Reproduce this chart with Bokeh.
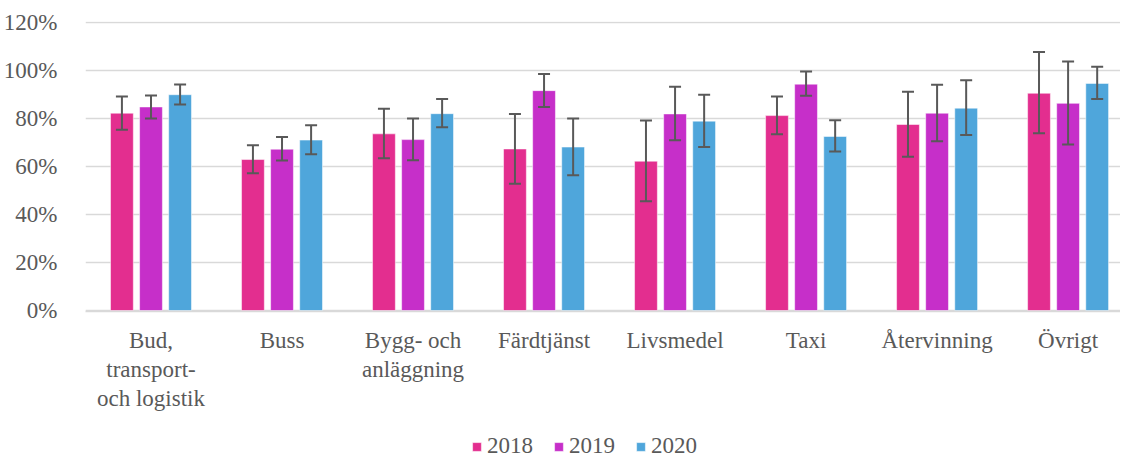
from bokeh.plotting import figure
from bokeh.models import (ColumnDataSource, Range1d, FixedTicker, NumeralTickFormatter,
                          Whisker, TeeHead, Legend, LegendItem)
from bokeh.transform import dodge
from bokeh.layouts import column
from bokeh.embed import file_html
from bokeh.resources import INLINE
import numpy as np

categories = ["Bud,\ntransport-\noch logistik", "Buss", "Bygg- och\nanläggning", "Färdtjänst",
              "Livsmedel", "Taxi", "Återvinning", "Övrigt"]
years = ["2018", "2019", "2020"]

v2018 = [82.2, 62.9, 73.6, 67.3, 62.2, 81.2, 77.5, 90.5]
v2019 = [84.8, 67.2, 71.2, 91.6, 81.9, 94.3, 82.2, 86.3]
v2020 = [89.9, 71.0, 82.0, 68.1, 78.9, 72.5, 84.3, 94.6]

hi2018 = [89.2, 68.8, 84.1, 81.9, 79.2, 89.2, 91.1, 107.7]
lo2018 = [75.3, 57.2, 63.4, 52.8, 45.5, 73.4, 64.1, 73.8]
hi2019 = [89.6, 72.3, 80.0, 98.5, 93.2, 99.6, 94.1, 103.7]
lo2019 = [80.0, 62.5, 62.6, 84.8, 70.9, 89.5, 70.5, 69.2]
hi2020 = [94.2, 77.2, 88.1, 80.0, 89.9, 79.3, 95.9, 101.5]
lo2020 = [85.8, 65.1, 76.3, 56.4, 68.1, 66.2, 73.1, 88.1]

colors = ["#E32E8F", "#C62FC9", "#4FA6DB"]
TEXT = "#595959"
FONT = "Liberation Serif"

xs = list(np.arange(len(categories)) + 0.5)
src = ColumnDataSource(dict(
    x=xs,
    v2018=[v / 100 for v in v2018], v2019=[v / 100 for v in v2019], v2020=[v / 100 for v in v2020],
    hi2018=[v / 100 for v in hi2018], lo2018=[v / 100 for v in lo2018],
    hi2019=[v / 100 for v in hi2019], lo2019=[v / 100 for v in lo2019],
    hi2020=[v / 100 for v in hi2020], lo2020=[v / 100 for v in lo2020],
))

p = figure(width=1120, height=432, output_backend="svg", toolbar_location=None,
           x_range=Range1d(0, 7.9), y_range=Range1d(-0.004, 1.204),
           min_border_left=77, min_border_right=0, min_border_top=21, min_border_bottom=121)
p.outline_line_color = None
p.background_fill_color = "white"
p.border_fill_color = "white"

offsets = [-0.222, 0.0, 0.222]
for yr, off, col in zip(years, offsets, colors):
    p.vbar(x=dodge("x", off, range=p.x_range), top="v" + yr, width=0.174, bottom=0,
           source=src, fill_color=col, line_color="white", line_alpha=0.5, line_width=1)
for yr, off in zip(years, offsets):
    w = Whisker(base=dodge("x", off, range=p.x_range), upper="hi" + yr, lower="lo" + yr,
                source=src, line_color=TEXT, line_width=2, level="overlay",
                upper_head=TeeHead(size=12, line_color=TEXT, line_width=2),
                lower_head=TeeHead(size=12, line_color=TEXT, line_width=2))
    p.add_layout(w)

# axes
p.xaxis.ticker = FixedTicker(ticks=xs)
p.xaxis.major_label_overrides = {x: c for x, c in zip(xs, categories)}
p.xaxis.axis_line_color = "#D9D9D9"
p.xaxis.axis_line_width = 1.5
p.xaxis.major_tick_line_color = None
p.xaxis.minor_tick_line_color = None
p.xaxis.major_label_standoff = 10
p.xaxis.major_label_text_font = FONT
p.xaxis.major_label_text_font_size = "23px"
p.xaxis.major_label_text_color = TEXT
p.xaxis.major_label_text_line_height = 1.17

p.yaxis.ticker = FixedTicker(ticks=[0, 0.2, 0.4, 0.6, 0.8, 1.0, 1.2])
p.yaxis.formatter = NumeralTickFormatter(format="0%")
p.yaxis.axis_line_color = None
p.yaxis.major_tick_line_color = None
p.yaxis.minor_tick_line_color = None
p.yaxis.major_label_standoff = 22
p.yaxis.major_label_text_font = FONT
p.yaxis.major_label_text_font_size = "23px"
p.yaxis.major_label_text_color = TEXT

p.xgrid.grid_line_color = None
p.ygrid.grid_line_color = "#D9D9D9"
p.ygrid.grid_line_width = 1.5
p.ygrid.ticker = FixedTicker(ticks=[0, 0.2, 0.4, 0.6, 0.8, 1.0, 1.2])

# legend strip below the chart (its swatch renderers sit outside the visible range)
p2 = figure(width=1120, height=27, output_backend="svg", toolbar_location=None,
            x_range=Range1d(0, 1), y_range=Range1d(0, 1),
            x_axis_location=None, y_axis_location=None, min_border=0)
p2.outline_line_color = None
p2.grid.visible = False
p2.background_fill_color = "white"
p2.border_fill_color = "white"
legend_renderers = []
for col in colors:
    r = p2.vbar(x=[10], top=[20], bottom=[15], width=0.1, fill_color=col,
                line_color="white", line_alpha=0.5)
    legend_renderers.append(r)
legend = Legend(items=[LegendItem(label=yr, renderers=[r]) for yr, r in zip(years, legend_renderers)],
                orientation="horizontal", location=(386, 0),
                label_text_font=FONT, label_text_font_size="23px", label_text_color=TEXT,
                glyph_width=11, glyph_height=11, label_standoff=5, spacing=20,
                padding=0, margin=0, border_line_color=None, background_fill_alpha=0)
p2.add_layout(legend, "center")

layout = column(p, p2, spacing=0)
open("out.html", "w").write(file_html(layout, INLINE))
